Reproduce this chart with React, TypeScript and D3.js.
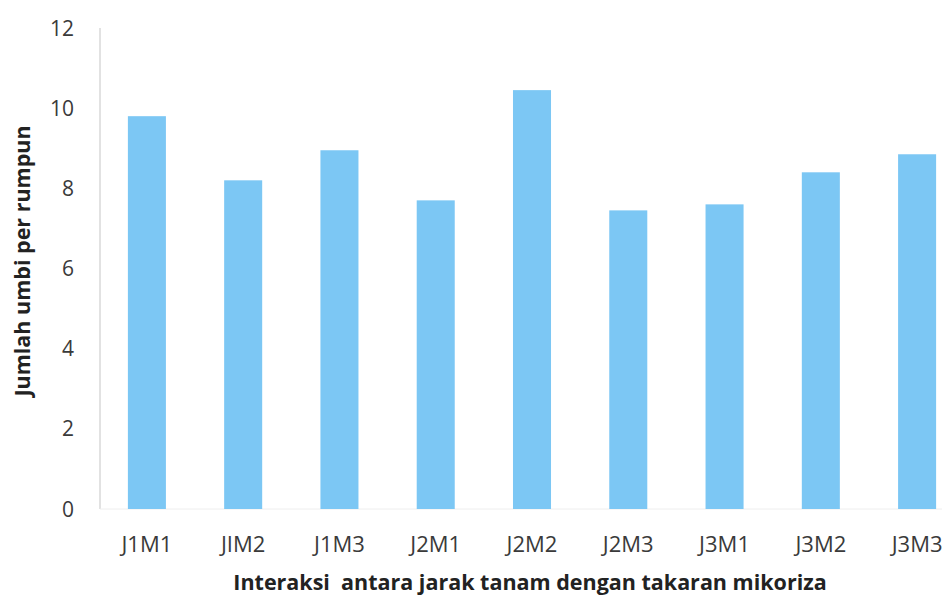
import React from "react";
import * as d3 from "d3";

// Jumlah umbi per rumpun for each spacing × mycorrhiza combination
const categories: string[] = ["J1M1", "JIM2", "J1M3", "J2M1", "J2M2", "J2M3", "J3M1", "J3M2", "J3M3"];
const values: number[] = [9.8, 8.2, 8.95, 7.7, 10.45, 7.45, 7.6, 8.4, 8.85];
const yTicks: number[] = [0, 2, 4, 6, 8, 10, 12];

const xTitle = "Interaksi  antara jarak tanam dengan takaran mikoriza";
const yTitle = "Jumlah umbi per rumpun";

const W = 942;
const H = 601;
const left = 99;
const right = 965;
const top = 28;
const bottom = 509;

export default function App() {
  const x = d3.scaleBand<string>().domain(categories).range([left, right]).paddingInner(0.605).paddingOuter(0.3);
  const y = d3.scaleLinear().domain([0, 12]).range([bottom, top]);
  const font = "'Open Sans', 'Liberation Sans', sans-serif";

  return (
    <svg width={W} height={H} style={{ position: "absolute", left: 0, top: 0, background: "#fff" }}>
      {/* value axis line */}
      <line x1={100} x2={100} y1={y(12)} y2={y(0)} stroke="#d9d9d9" strokeWidth={1.5} />
      <line x1={100} x2={W} y1={y(0)} y2={y(0)} stroke="#eeeeee" strokeWidth={1} />

      {yTicks.map((t) => (
        <text key={t} x={74} y={y(t)} dy="0.36em" textAnchor="end" fontFamily={font} fontSize={21} fill="#3a3a3a">
          {t}
        </text>
      ))}

      {categories.map((c, i) => (
        <rect key={c} x={x(c)} y={y(values[i])} width={x.bandwidth()} height={y(0) - y(values[i])} fill="#7cc7f4" />
      ))}

      {categories.map((c) => (
        <text key={c} x={(x(c) as number) + x.bandwidth() / 2} y={544} dy="0.36em" textAnchor="middle" fontFamily={font} fontSize={22} fill="#3a3a3a">
          {c}
        </text>
      ))}

      <text x={530} y={582} dy="0.36em" textAnchor="middle" fontFamily={font} fontWeight="bold" fontSize={21.5} fill="#222" style={{ whiteSpace: "pre" }}>
        {xTitle}
      </text>
      <text transform={`translate(22,261) rotate(-90)`} dy="0.36em" textAnchor="middle" fontFamily={font} fontWeight="bold" fontSize={21.5} fill="#222">
        {yTitle}
      </text>
    </svg>
  );
}
